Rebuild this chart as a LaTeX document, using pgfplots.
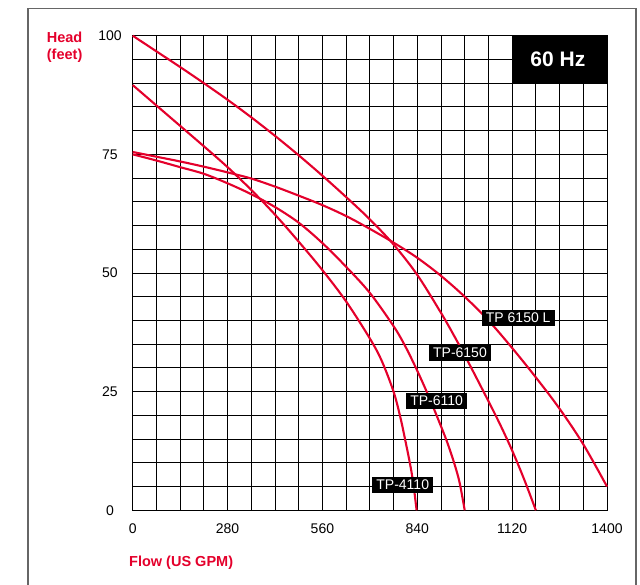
\documentclass[border=0pt]{standalone}
\usepackage{fontspec}
\setmainfont{Liberation Sans}
\usepackage{pgfplots}
\pgfplotsset{compat=1.18}
\definecolor{pumpred}{RGB}{228,0,43}
\newcommand{\lblfont}{\fontsize{14bp}{16bp}\selectfont}
\begin{document}
\begin{tikzpicture}
\useasboundingbox (-132.7bp,-74.7bp) rectangle (507.3bp,510.3bp);
\draw[black!60, line width=1.3bp] (-104.7bp,-80bp) -- (-104.7bp,501.6bp) -- (503.3bp,501.6bp) -- (503.3bp,-80bp);
\begin{axis}[
  scale only axis, width=474.3bp, height=474.6bp,
  xmin=0, xmax=1400, ymin=0, ymax=100,
  xtick={0,280,...,1400}, minor xtick={0,70,...,1400},
  ytick={0,25,...,100}, minor ytick={0,5,...,100},
  grid=both,
  major grid style={black, line width=0.9bp},
  minor grid style={black, line width=0.9bp},
  axis line style={black, line width=0.9bp},
  major tick length=0pt, minor tick length=0pt,
  tick label style={font=\lblfont},
  /pgf/number format/assume math mode=true,
  /pgf/number format/1000 sep={},
  xticklabel style={anchor=center, yshift=-18bp},
  yticklabel style={anchor=center, xshift=-22.7bp},
  clip=false,
]
\tikzset{pc/.style={draw=pumpred, line width=2.1bp, smooth, tension=0.55, mark=none}}
% TP-6150
\addplot[pc] coordinates {(0,100) (70,96.7) (140,93.4) (210,90) (280,86.5) (350,82.8) (420,78.9) (490,74.8) (560,70.5) (630,66.0) (700,61.3) (770,56.0) (840,49.6) (910,41.6) (950,36.6) (990,31.3) (1050,23.0) (1085,18.0) (1120,12.6) (1155,6.6) (1190,0)};
% TP 6150 L
\addplot[pc] coordinates {(0,75.5) (70,74.5) (140,73.5) (210,72.4) (280,71.2) (350,69.9) (420,68.2) (490,66.3) (560,64.3) (630,62.0) (700,59.3) (770,56.4) (840,53.2) (910,49.4) (980,45.0) (1050,40.0) (1120,34.2) (1190,28.0) (1260,21.4) (1330,13.9) (1400,5)};
% TP-6110
\addplot[pc] coordinates {(0,75.0) (70,73.7) (140,72.3) (210,70.9) (280,68.9) (350,66.6) (420,63.9) (490,60.6) (560,56.3) (630,51.3) (700,45.8) (770,38.8) (805,34.5) (840,29.4) (875,23.8) (910,17.7) (930,14.0) (950,9.7) (965,5.8) (980,0)};
% TP-4110
\addplot[pc] coordinates {(0,89.6) (70,85.3) (140,81.0) (210,76.7) (280,72.3) (350,67.5) (420,62.3) (490,56.6) (560,50.6) (630,44.0) (700,36.2) (735,31.5) (770,25.0) (790,19.6) (805,14.6) (818,10) (828,5.8) (838,0)};
\fill[black] (axis cs:1120,90) rectangle (axis cs:1400,100);
\node[text=white, font=\bfseries\fontsize{21bp}{24bp}\selectfont] at (axis cs:1255,95) {60 Hz};
\tikzset{lbl/.style={fill=black, text=white, inner xsep=4bp, inner ysep=3bp, text height=10bp, text depth=0.5bp, font=\lblfont}}
\node[lbl] at (axis cs:1138,40.5) {TP 6150 L};
\node[lbl] at (axis cs:966,33.1) {TP-6150};
\node[lbl] at (axis cs:897,23.0) {TP-6110};
\node[lbl] at (axis cs:797,5.3) {TP-4110};
\end{axis}
\node[anchor=base west, inner sep=0pt, text=pumpred, font=\bfseries\fontsize{14.5bp}{17bp}\selectfont] at (-86bp,468bp) {Head};
\node[anchor=base west, inner sep=0pt, text=pumpred, font=\bfseries\fontsize{14.5bp}{17bp}\selectfont] at (-86bp,451bp) {(feet)};
\node[anchor=base west, inner sep=0pt, text=pumpred, font=\bfseries\fontsize{14.5bp}{17bp}\selectfont] at (-3.7bp,-55.7bp) {Flow (US GPM)};
\end{tikzpicture}
\end{document}
